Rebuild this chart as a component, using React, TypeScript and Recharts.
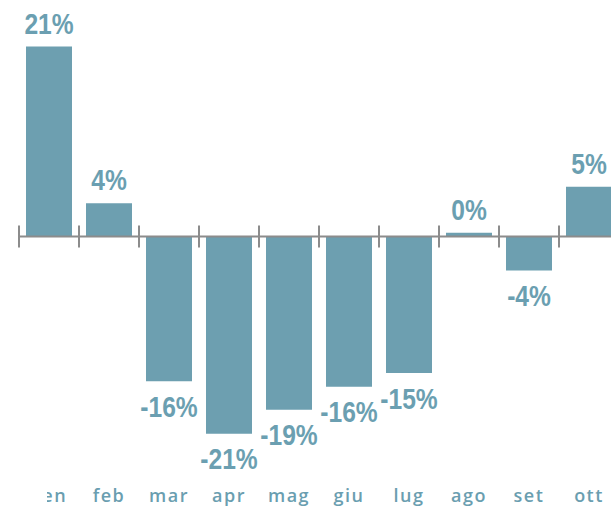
import React from "react";
import { BarChart, Bar, XAxis, YAxis, ReferenceLine, LabelList } from "recharts";

const months = ["gen", "feb", "mar", "apr", "mag", "giu", "lug", "ago", "set", "ott"];
const values = [20.6, 3.6, -15.7, -21.4, -18.8, -16.3, -14.8, 0.4, -3.7, 5.4];

const data = months.map((m, i) => ({ month: m, value: values[i] }));

const BAR = "#6d9fb0";
const LABEL = "#6b9fb1";
const AXIS_TEXT = "#6a9eb0";
const AXIS_LINE = "#8c8c8c";

const ValueLabel = (props: any) => {
  const { x, y, width, height, value } = props;
  const top = Math.min(y, y + height);
  const bottom = Math.max(y, y + height);
  const cx = x + width / 2;
  const ty = value >= 0 ? top - 13 : bottom + 35.6;
  return (
    <text
      x={0}
      y={0}
      transform={`translate(${cx},${ty}) scale(0.82,1)`}
      textAnchor="middle"
      fill={LABEL}
      fontFamily="'Liberation Sans', Arial, sans-serif"
      fontWeight="bold"
      fontSize={30}
    >
      {`${Math.round(value)}%`}
    </text>
  );
};

const MonthTick = (props: any) => {
  const { x, y, payload, index } = props;
  return (
    <g>
      {index === 0 && (
        <defs>
          <clipPath id="firstTickClip">
            <rect x={x - 2} y={y - 40} width={60} height={80} />
          </clipPath>
        </defs>
      )}
      <text
        x={x}
        y={y}
        dy={27}
        textAnchor="middle"
        fill={AXIS_TEXT}
        fontFamily="'Open Sans', sans-serif"
        fontWeight={600}
        fontSize={18}
        letterSpacing={1.5}
        clipPath={index === 0 ? "url(#firstTickClip)" : undefined}
      >
        {payload.value}
      </text>
    </g>
  );
};

export default function App() {
  return (
    <div
      style={{
        position: "absolute",
        left: 0,
        top: 0,
        width: 611,
        height: 507,
        overflow: "hidden",
        background: "#ffffff",
      }}
    >
      <BarChart
        width={640}
        height={507}
        data={data}
        margin={{ top: 6, right: 21, left: 19, bottom: 0 }}
      >
        <XAxis
          dataKey="month"
          axisLine={false}
          tickLine={false}
          height={40}
          interval={0}
          tick={<MonthTick />}
        />
        <YAxis domain={[-25, 25]} hide />
        <Bar dataKey="value" fill={BAR} barSize={46} isAnimationActive={false}>
          <LabelList dataKey="value" content={<ValueLabel />} />
        </Bar>
        <ReferenceLine y={0} stroke={AXIS_LINE} strokeWidth={2} />
        {months.map((m) => (
          <ReferenceLine
            key={m}
            segment={[
              { x: m, y: -1.2 },
              { x: m, y: 1.2 },
            ]}
            position="start"
            stroke={AXIS_LINE}
            strokeWidth={2}
            ifOverflow="visible"
          />
        ))}
        <ReferenceLine
          segment={[
            { x: months[months.length - 1], y: -1.2 },
            { x: months[months.length - 1], y: 1.2 },
          ]}
          position="end"
          stroke={AXIS_LINE}
          strokeWidth={2}
          ifOverflow="visible"
        />
      </BarChart>
    </div>
  );
}
